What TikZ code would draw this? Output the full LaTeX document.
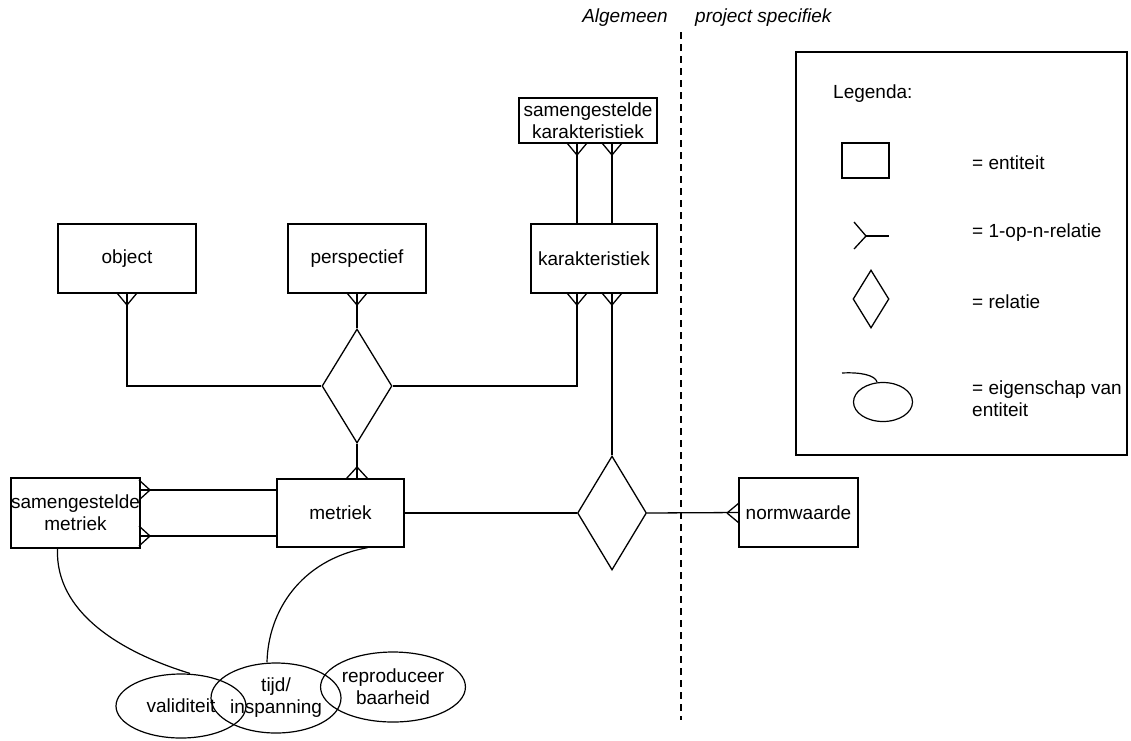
\documentclass[tikz,border=0pt]{standalone}
\usepackage{fontspec}
\setmainfont{Liberation Sans}
\usetikzlibrary{shapes.geometric,calc}
\newcommand\crowfoot[3]{\draw[lw] (#1) -- ++(#2) (#1) -- ++(#3);}
\begin{document}
\begin{tikzpicture}[x=1pt,y=-1pt,
  lw/.style={line width=1.3pt},
  every node/.style={font=\fontsize{19}{22}\selectfont},
  ent/.style={draw,lw,rectangle,inner sep=0pt,align=center},
  rel/.style={draw,lw,diamond,inner sep=0pt},
  attr/.style={draw,line width=1.2pt,ellipse,inner sep=0pt,align=center},
  conn/.style={lw},
  lbl/.style={anchor=west,inner sep=0pt,align=left}]
\useasboundingbox (0,0) rectangle (1131,740);

% entities
\node[ent,minimum width=138pt,minimum height=45pt] (skar) at (588,120.5) {samengestelde\\karakteristiek};
\node[ent,minimum width=138pt,minimum height=69pt] (obj) at (127,258.5) {object};
\node[ent,minimum width=138pt,minimum height=69pt] (persp) at (357,258.5) {perspectief};
\node[ent,minimum width=126pt,minimum height=69pt] (kar) at (594,258.5) {karakteristiek};
\node[ent,minimum width=127pt,minimum height=70pt] (smet) at (75.5,513) {samengestelde\\metriek};
\node[ent,minimum width=127pt,minimum height=68pt] (met) at (340.5,513) {metriek};
\node[ent,minimum width=119pt,minimum height=69pt] (norm) at (798.5,512.5) {normwaarde};

% relations
\node[rel,minimum width=70pt,minimum height=114pt] (rel1) at (357,386) {};
\node[rel,minimum width=69pt,minimum height=114pt] (rel2) at (612,513) {};

% connectors
\draw[conn] ([xshift=-11pt]skar.south) -- ([xshift=-17pt]kar.north);
\draw[conn] ([xshift=24pt]skar.south) -- ([xshift=18pt]kar.north);
\draw[conn] ([xshift=-17pt]kar.south) |- (rel1.east);
\draw[conn] ([xshift=18pt]kar.south) -- (rel2.north);
\draw[conn] (obj.south) |- (rel1.west);
\draw[conn] (persp.south) -- (rel1.north);
\draw[conn] (rel1.south) -- (rel1.south |- met.north);
\draw[conn] ([yshift=23pt]smet.east) -- ([yshift=23pt]met.west);
\draw[conn] ([yshift=-23pt]smet.east) -- ([yshift=-23pt]met.west);
\draw[conn] (met.east) -- (rel2.west);
\draw[conn] (rel2.east) -- (norm.west);

% crow's feet
\crowfoot{577,155}{-10,-12}{10,-12}
\crowfoot{612,155}{-10,-12}{10,-12}
\crowfoot{577,305}{-10,-12}{10,-12}
\crowfoot{612,305}{-10,-12}{10,-12}
\crowfoot{127,305}{-10,-12}{10,-12}
\crowfoot{357,305}{-10,-12}{10,-12}
\crowfoot{357,467}{-11,12}{11,12}
\crowfoot{150,490}{-11,-10}{-11,10}
\crowfoot{150,536}{-11,-10}{-11,10}
\crowfoot{727,513}{12,-10}{12,10}

% attributes
\node[attr,minimum width=130pt,minimum height=64pt] (val) at (181,706) {validiteit};
\node[attr,minimum width=114pt,minimum height=70pt] (tijd) at (276,698) {tijd/\\inspanning};
\node[attr,minimum width=140pt,minimum height=70pt] (rep) at (393,687) {reproduceer\\baarheid};
\draw[line width=1.2pt] ([xshift=-18pt]smet.south) .. controls (55,612) and (120,652) .. ([xshift=9pt]val.north);
\draw[line width=1.2pt] ([xshift=27pt]met.south) .. controls (300,560) and (268,612) .. ([xshift=-9pt]tijd.north);

% divider
\coordinate (dtop) at (681,32);
\coordinate (dbot) at (681,720);
\draw[lw,dash pattern=on 7pt off 5pt] (dtop) -- (dbot);
\node[anchor=east,inner sep=0pt,font=\fontsize{19}{22}\selectfont\itshape] (alg) at (668,18) {Algemeen};
\node[anchor=west,inner sep=0pt,font=\fontsize{19}{22}\selectfont\itshape] (proj) at (695,18) {project specifiek};

% legend
\node[draw,line width=1.2pt,rectangle,minimum width=331pt,minimum height=403pt,inner sep=0pt] (leg) at (961.5,253.5) {};
\node[lbl] (legt) at (833,94) {Legenda:};
\node[draw,line width=1.2pt,rectangle,minimum width=47pt,minimum height=35pt,inner sep=0pt] (le1) at (865.5,160.5) {};
\node[lbl] (lt1) at (972,163) {= entiteit};
\coordinate (lc) at (866,236);
\coordinate (lce) at (889,236);
\draw[lw] (lc) -- (lce);
\crowfoot{lc}{-12,-14}{-12,13}
\node[lbl] (lt2) at (972,233) {= 1-op-n-relatie};
\node[rel,minimum width=36pt,minimum height=58pt] (le3) at (871,299) {};
\node[lbl] (lt3) at (972,302) {= relatie};
\node[draw,line width=1.2pt,ellipse,minimum width=59pt,minimum height=39pt,inner sep=0pt] (le4) at (883,402) {};
\coordinate (lcs) at (842,373);
\draw[line width=1.2pt] (lcs) .. controls (860,372) and (875,375) .. ([xshift=-6pt]le4.north);
\node[lbl,anchor=north west] (lt4) at (972,381) {= eigenschap van\\entiteit};
\end{tikzpicture}
\end{document}
